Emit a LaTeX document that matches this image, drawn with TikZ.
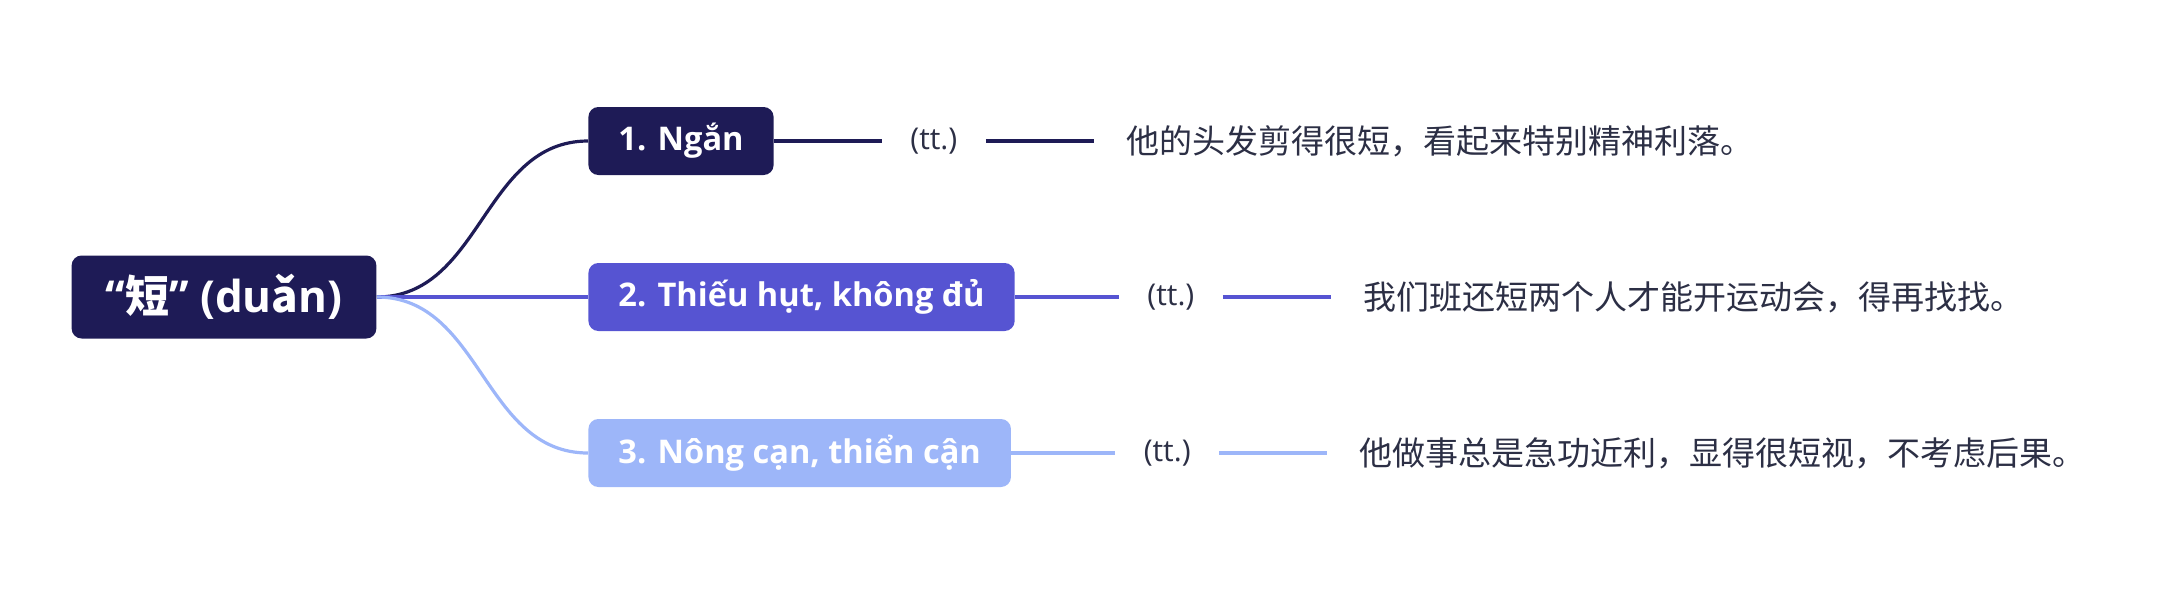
\documentclass[tikz,border=0pt]{standalone}
\usepackage{fontspec}
\setmainfont{Open Sans}
\newfontfamily\cjk{Noto Sans CJK SC}
\usetikzlibrary{positioning}
\definecolor{navy}{HTML}{1E1B56}
\definecolor{slate}{HTML}{5654D2}
\definecolor{sky}{HTML}{9DB6F9}
\definecolor{ink}{HTML}{2C2F45}
\tikzset{
  topic/.style = {rounded corners=5pt, text=white, fill=#1,
    font=\fontsize{16.3}{20}\selectfont\bfseries,
    inner xsep=15pt, minimum height=34pt},% coloured box
  root/.style = {topic=navy, font=\fontsize{22}{26}\selectfont\bfseries,
    inner xsep=17pt, minimum height=41.5pt},
  tag/.style = {text=ink, font=\fontsize{15}{18}\selectfont, inner xsep=14pt},
  ex/.style = {text=ink, font=\cjk\fontsize{16.5}{20}\selectfont,
    inner xsep=16pt},% example sentence
  link/.style = {draw=#1, line width=2pt}
}
\begin{document}
\begin{tikzpicture}[x=0.5pt,y=-0.5pt]
\useasboundingbox (0,0) rectangle (2160,607);
\node [root] (r) at (224,297) {“{\cjk 短}” (du{\cjk ǎ}n)};
\node [topic=navy, anchor=west] (n1) at (588,141) {1. Ngắn};
\node [topic=slate, anchor=west] (n2) at (588,297) {2. Thiếu hụt, không đủ};
\node [topic=sky, anchor=west] (n3) at (588,453) {3. Nông cạn, thiển cận};
% word class and examples
\node [tag, right=54pt of n1] (t1) {(tt.)};
\node [tag, right=52pt of n2] (t2) {(tt.)};
\node [tag, right=52pt of n3] (t3) {(tt.)};
\node [ex, right=54pt of t1] (e1) {他的头发剪得很短，看起来特别精神利落。};
\node [ex, right=54pt of t2] (e2) {我们班还短两个人才能开运动会，得再找找。};
\node [ex, right=54pt of t3] (e3) {他做事总是急功近利，显得很短视，不考虑后果。};
% connectors
\draw [link=navy, line width=1.6pt] (r.east) .. controls +(105,0) and +(-105,0) .. (n1.west);
\draw [link=slate, line width=1.6pt] (r.east) -- (n2.west);
\draw [link=sky, line width=1.6pt] (r.east) .. controls +(105,0) and +(-105,0) .. (n3.west);
\draw [link=navy] (n1.east) -- (t1.west);
\draw [link=navy] (t1.east) -- (e1.west);
\draw [link=slate] (n2.east) -- (t2.west);
\draw [link=slate] (t2.east) -- (e2.west);
\draw [link=sky] (n3.east) -- (t3.west);
\draw [link=sky] (t3.east) -- (e3.west);
\end{tikzpicture}
\end{document}
